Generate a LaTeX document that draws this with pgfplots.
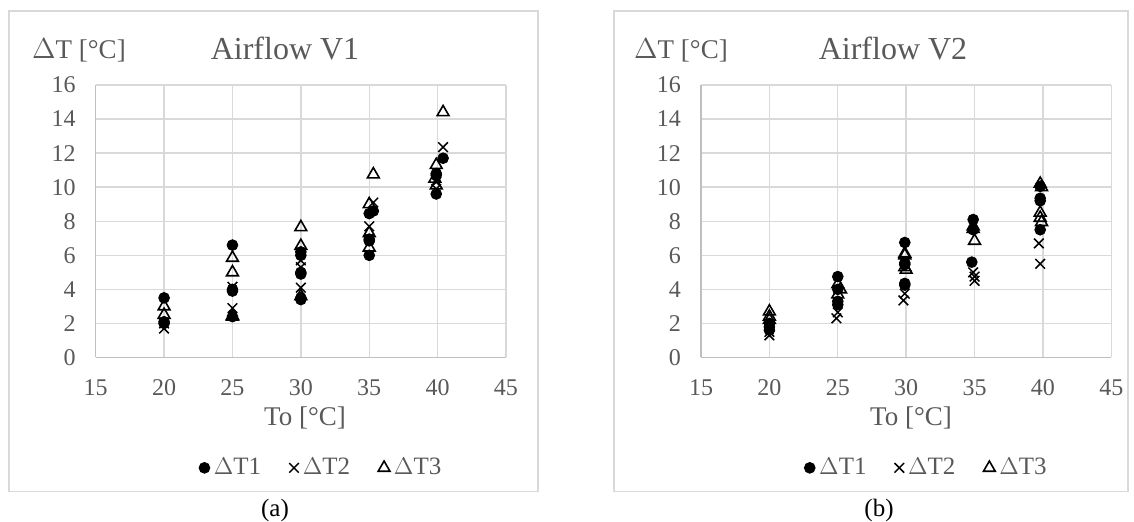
\documentclass[border=0pt]{standalone}
\usepackage{fontspec}
\setmainfont{Liberation Serif}
\usepackage{pgfplots}
\pgfplotsset{compat=1.18}
\definecolor{txt}{HTML}{595959}
\definecolor{grd}{HTML}{D9D9D9}
\definecolor{axl}{HTML}{BFBFBF}
\pgfplotsset{
  myax/.style={
    scale only axis, width=205.15pt, height=136.25pt,
    xmin=15, xmax=45, ymin=0, ymax=16,
    xtick={15,20,...,45}, ytick={0,2,...,16},
    grid=major, major grid style={grd, line width=0.7pt},
    axis x line*=bottom, axis y line*=left,
    axis line style={axl, line width=0.8pt, -},
    major tick length=0pt,
    tick label style={txt, font=\fontsize{12}{13}\selectfont},
    /pgf/number format/assume math mode=true,
    xticklabel style={yshift=-7.5pt},
    yticklabel style={xshift=-6.5pt},
    legend columns=3,
    legend style={draw=none, fill=none, at={(axis description cs:0.552,-0.405)}, anchor=center,
      font=\fontsize{12.5}{13}\selectfont, text=txt,
      /tikz/every even column/.append style={column sep=12pt}},
    legend image code/.code={\draw[mark repeat=2,mark phase=2,##1] plot coordinates {(0cm,0cm) (0.15cm,0cm) (0.3cm,0cm)};},
  },
  s1/.style={only marks, mark=*, mark size=2.7pt, black, mark options={fill=black}},
  s2/.style={only marks, mark=x, mark size=3.4pt, black, mark options={line width=0.75pt}},
  s3/.style={only marks, mark=triangle, mark size=3.4pt, black, mark options={fill=white, line width=0.8pt}},
}
\begin{document}
\begin{tikzpicture}
\useasboundingbox (0,0) rectangle (567pt,261pt);
\draw[grd, line width=0.75pt] (4.5pt,15.15pt) rectangle (269pt,255.5pt);
\draw[grd, line width=0.75pt] (307pt,15.15pt) rectangle (564pt,255.5pt);
% ---- panel (a)
\begin{axis}[myax, at={(47.85pt,82.25pt)}, anchor=south west]
\addplot[s1] coordinates {(20,3.5)(20,2.1)(20,2.0)(25,6.6)(25,4.0)(25,3.9)(25,2.4)(30,6.2)(30,6.0)(30,5.0)(30,4.9)(30,3.5)(30,3.4)(35,8.45)(35.3,8.6)(35,6.95)(35,6.85)(35,6.0)(39.9,10.8)(39.9,10.7)(39.9,9.6)(40.4,11.7)};
\addlegendentry{$\Delta$T1}
\addplot[s2] coordinates {(20,1.7)(20,2.0)(25,4.15)(25,2.9)(30,5.7)(30,5.3)(30,4.1)(35.3,9.1)(35,7.7)(35,7.0)(40.4,12.35)(39.9,10.3)(39.9,9.9)};
\addlegendentry{$\Delta$T2}
\addplot[s3] coordinates {(20,3.0)(20,2.5)(25,5.85)(25,5.0)(25,2.45)(25,2.4)(30,7.65)(30,6.55)(30,3.6)(35.3,10.75)(35,9.0)(35,7.3)(35,6.45)(40.4,14.4)(39.9,11.3)(39.8,10.5)(39.9,10.1)};
\addlegendentry{$\Delta$T3}
\end{axis}
% ---- panel (b)
\begin{axis}[myax, at={(350.5pt,82.25pt)}, anchor=south west]
\addplot[s1] coordinates {(20,2.0)(20,1.8)(20,1.6)(25,4.75)(25,4.0)(25,3.3)(25,3.1)(29.9,6.75)(29.9,5.55)(29.9,5.45)(29.9,4.35)(29.9,4.25)(34.9,8.1)(34.9,7.5)(34.8,5.6)(39.8,10.05)(39.8,9.35)(39.8,9.2)(39.8,7.5)};
\addlegendentry{$\Delta$T1}
\addplot[s2] coordinates {(20,1.5)(20,1.3)(25,2.65)(24.9,2.3)(29.9,3.75)(29.8,3.35)(34.9,5.0)(35,4.75)(35,4.5)(39.7,6.7)(39.8,5.5)};
\addlegendentry{$\Delta$T2}
\addplot[s3] coordinates {(20,2.7)(20,2.4)(20,2.2)(25,4.3)(25.2,4.0)(25,3.7)(29.9,6.1)(29.9,6.0)(29.9,5.3)(30,5.15)(34.9,7.7)(34.9,7.55)(35,6.85)(39.8,10.2)(39.9,10.0)(39.8,8.5)(39.8,8.2)(39.9,7.95)};
\addlegendentry{$\Delta$T3}
\end{axis}
% ---- texts
\node[anchor=base, text=txt, font=\fontsize{16}{18}\selectfont] at (142.5pt,231pt) {Airflow V1};
\node[anchor=base, text=txt, font=\fontsize{16}{18}\selectfont] at (446.5pt,231pt) {Airflow V2};
\node[anchor=base, text=txt, font=\fontsize{13.5}{15}\selectfont] at (39.5pt,231.5pt) {$\Delta$T [°C]};
\node[anchor=base, text=txt, font=\fontsize{13.5}{15}\selectfont] at (340.5pt,231.5pt) {$\Delta$T [°C]};
\node[anchor=base, text=txt, font=\fontsize{13.5}{15}\selectfont] at (152.5pt,48pt) {To [°C]};
\node[anchor=base, text=txt, font=\fontsize{13.5}{15}\selectfont] at (455.5pt,48pt) {To [°C]};
\node[anchor=base, font=\fontsize{12.5}{14}\selectfont] at (137.5pt,2.7pt) {(a)};
\node[anchor=base, font=\fontsize{12.5}{14}\selectfont] at (439.5pt,2.7pt) {(b)};
\end{tikzpicture}
\end{document}
